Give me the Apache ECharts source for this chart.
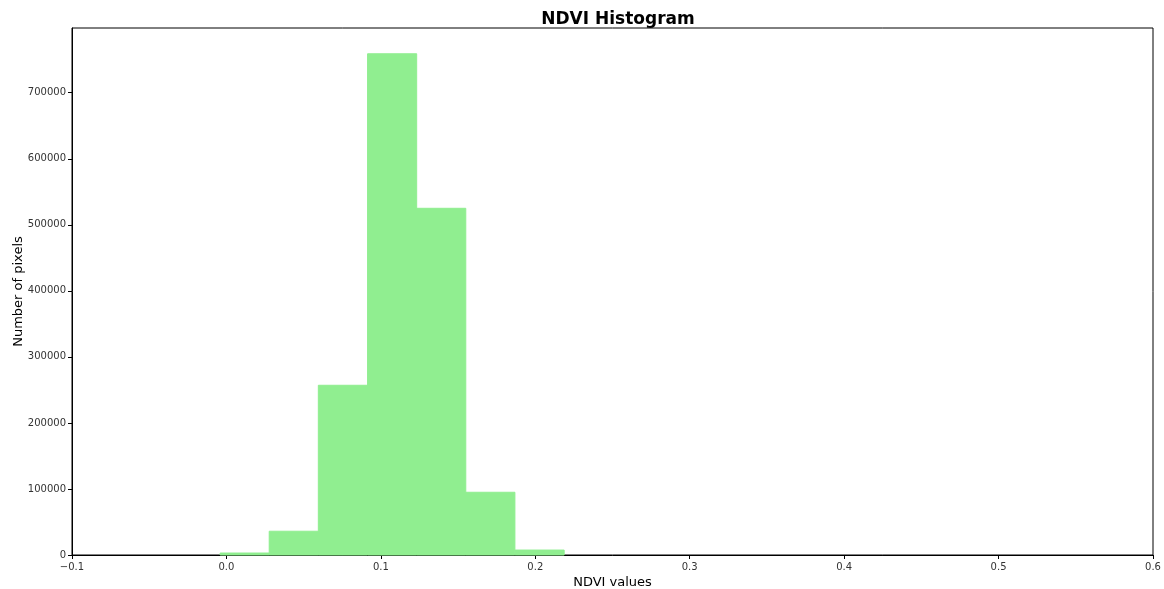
<!DOCTYPE html>
<html>
<head>
<meta charset="utf-8">
<script src="https://cdn.jsdelivr.net/npm/echarts@6/dist/echarts.min.js"></script>
<style>html,body{margin:0;padding:0;background:#fff}#c{width:1164px;height:589px}</style>
</head>
<body>
<div id="c"></div>
<script>
// Histogram bins (NDVI values)
const binStarts = [-0.0041, 0.0277, 0.0595, 0.0914, 0.1232, 0.1550, 0.1869];
const binWidth = 0.0318;
const counts = [3000, 36000, 257000, 759000, 525000, 95000, 7500];
const xTicks = [-0.1, 0.0, 0.1, 0.2, 0.3, 0.4, 0.5, 0.6];
const yTicks = [0, 100000, 200000, 300000, 400000, 500000, 600000, 700000];

const data = binStarts.map((s, i) => [s, s + binWidth, counts[i]]);
const chart = echarts.init(document.getElementById('c'), null, {renderer: 'canvas'});
const font = 'DejaVu Sans';
chart.setOption({
  animation: false,
  title: {
    text: 'NDVI Histogram', left: 613, top: 6, textAlign: 'center',
    textStyle: {fontFamily: font, fontSize: 17, fontWeight: 'bold', color: '#000'}
  },
  grid: {left: 72, right: 11, top: 28, bottom: 34, containLabel: false, outerBoundsMode: 'none',
    show: true, borderColor: '#000', borderWidth: 1, backgroundColor: 'transparent'},
  xAxis: {
    type: 'value', min: -0.1, max: 0.6, interval: 0.1,
    name: 'NDVI values', nameLocation: 'middle', nameGap: 21, nameMoveOverlap: false,
    nameTextStyle: {fontFamily: font, fontSize: 13, color: '#000'},
    axisLine: {show: true, onZero: false, lineStyle: {color: '#000', width: 1}},
    axisTick: {show: true, inside: false, length: 4, lineStyle: {color: '#000'}},
    axisLabel: {fontFamily: font, fontSize: 10, color: '#333', margin: 7,
      formatter: v => (xTicks.some(t => Math.abs(t - v) < 1e-9) ? v.toFixed(1).replace('-', '\u2212') : '')},
    splitLine: {show: false}
  },
  yAxis: {
    type: 'value', min: 0, max: 798000, interval: 100000,
    name: 'Number of pixels', nameLocation: 'middle', nameGap: 47, nameMoveOverlap: false,
    nameTextStyle: {fontFamily: font, fontSize: 13, color: '#000'},
    axisLine: {show: true, onZero: false, lineStyle: {color: '#000', width: 1}},
    axisTick: {show: true, inside: false, length: 4, lineStyle: {color: '#000'}},
    axisLabel: {fontFamily: font, fontSize: 10, color: '#333', margin: 6, showMaxLabel: false,
      formatter: v => (yTicks.indexOf(v) >= 0 ? String(v) : '')},
    splitLine: {show: false}
  },
  series: [{
    type: 'custom',
    data: data,
    encode: {x: [0, 1], y: 2},
    renderItem: function (params, api) {
      const p0 = api.coord([api.value(0), 0]);
      const p1 = api.coord([api.value(1), api.value(2)]);
      return {
        type: 'rect',
        shape: {x: p0[0], y: p1[1], width: p1[0] - p0[0], height: p0[1] - p1[1]},
        style: {fill: '#90EE90', stroke: '#90EE90', lineWidth: 1}
      };
    }
  }]
});
</script>
</body>
</html>
